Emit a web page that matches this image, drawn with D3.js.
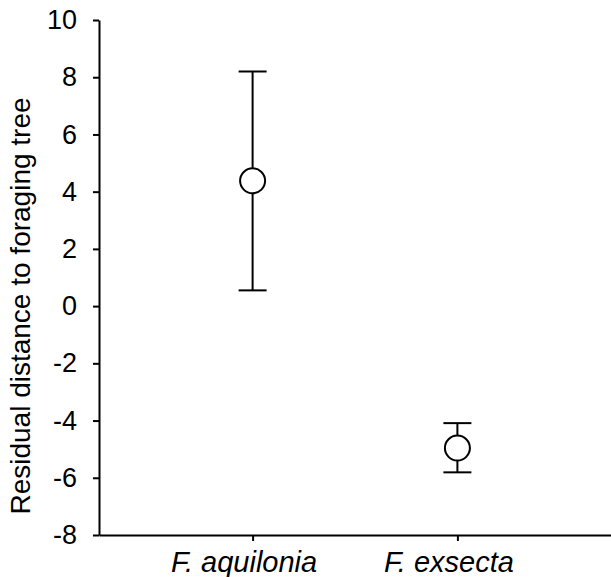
<!DOCTYPE html>
<html>
<head>
<meta charset="utf-8">
<script src="https://cdn.jsdelivr.net/npm/d3@7"></script>
<style>
  body { margin: 0; background: #fff; }
  svg { display: block; font-family: Arial, "Liberation Sans", sans-serif; }
</style>
</head>
<body>
<div id="chart"></div>
<script>
// --- Data ---
const species = ["F. aquilonia", "F. exsecta"];
const means = [4.38, -4.96];
const upper = [8.2, -4.09];
const lower = [0.55, -5.81];
const yTicks = [-8, -6, -4, -2, 0, 2, 4, 6, 8, 10];

const W = 611, H = 577;
const margin = { top: 20, right: 0, bottom: 42, left: 99 };

const svg = d3.select("#chart").append("svg")
    .attr("width", W)
    .attr("height", H);

const x = d3.scalePoint()
    .domain(species)
    .range([margin.left, W - margin.right])
    .padding(0.75);

const y = d3.scaleLinear()
    .domain([-8, 10])
    .range([H - margin.bottom, margin.top]);

// Axes
const yAxis = svg.append("g")
    .attr("transform", `translate(${margin.left},0)`)
    .call(d3.axisLeft(y).tickValues(yTicks).tickFormat(d => String(d))
        .tickSize(6).tickPadding(16).tickSizeOuter(0));

const xAxis = svg.append("g")
    .attr("transform", `translate(0,${H - margin.bottom})`)
    .call(d3.axisBottom(x).tickSize(6).tickPadding(10).tickSizeOuter(0));

[yAxis, xAxis].forEach(g => {
    g.select(".domain").attr("stroke", "#000").attr("stroke-width", 2);
    g.selectAll(".tick line").attr("stroke", "#000").attr("stroke-width", 2);
    g.selectAll("text")
        .attr("fill", "#000")
        .style("font-size", "27px")
        .style("font-family", "Arial, 'Liberation Sans', sans-serif");
});
// category labels sit slightly left of their ticks in the original
xAxis.selectAll("text")
    .attr("dx", -9)
    .style("font-style", "italic")
    .style("font-size", "29px");

// Error bars
const cap = 14;
const bars = svg.append("g")
    .attr("stroke", "#000")
    .attr("stroke-width", 2);

species.forEach((s, i) => {
    const cx = x(s);
    bars.append("line")
        .attr("x1", cx).attr("x2", cx)
        .attr("y1", y(upper[i])).attr("y2", y(lower[i]));
    bars.append("line")
        .attr("x1", cx - cap).attr("x2", cx + cap)
        .attr("y1", y(upper[i])).attr("y2", y(upper[i]));
    bars.append("line")
        .attr("x1", cx - cap).attr("x2", cx + cap)
        .attr("y1", y(lower[i])).attr("y2", y(lower[i]));
});

// Mean points
svg.append("g")
    .selectAll("circle")
    .data(species)
    .enter()
    .append("circle")
    .attr("cx", d => x(d))
    .attr("cy", (d, i) => y(means[i]))
    .attr("r", 12.5)
    .attr("fill", "#fff")
    .attr("stroke", "#000")
    .attr("stroke-width", 2);

// Y title
svg.append("text")
    .attr("transform", `translate(30,306) rotate(-90)`)
    .attr("text-anchor", "middle")
    .style("font-size", "28px")
    .attr("fill", "#000")
    .text("Residual distance to foraging tree");
</script>
</body>
</html>
